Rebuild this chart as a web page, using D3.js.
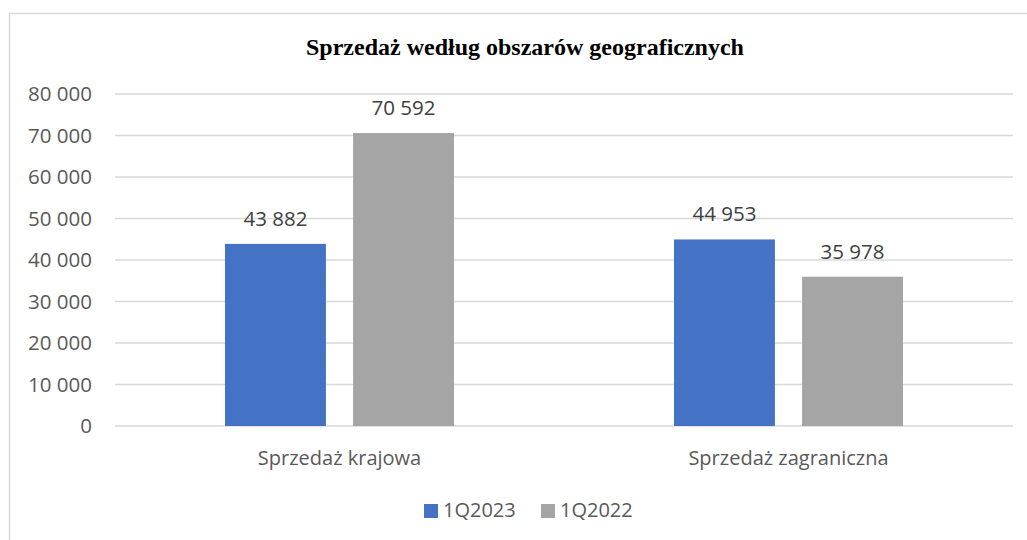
<!DOCTYPE html>
<html>
<head>
<meta charset="utf-8">
<script src="https://cdn.jsdelivr.net/npm/d3@7"></script>
<style>
body{margin:0;background:#fff;}
svg{display:block;}
</style>
</head>
<body>
<svg id="chart" width="1027" height="540"></svg>
<script>
const categories=["Sprzedaż krajowa","Sprzedaż zagraniczna"];
const seriesNames=["1Q2023","1Q2022"];
const values1Q2023=[43882,44953];
const values1Q2022=[70592,35978];
const yTicks=[0,10000,20000,30000,40000,50000,60000,70000,80000];
const colors=["#4472c4","#a5a5a5"];

const svg=d3.select("#chart");
const plotLeft=115,plotRight=1013,plotTop=94,plotBottom=426;
const fmt=v=>d3.format(",")(v).replace(/,/g," ");

// ramka
svg.append("rect")
    .attr("x",9.5).attr("y",13.5)
    .attr("width",1030).attr("height",540)
    .attr("fill","#fff").attr("stroke","#d9d9d9").attr("stroke-width",1.5);

svg.append("text")
    .attr("x",525).attr("y",55)
    .attr("text-anchor","middle")
    .attr("font-family","'Liberation Serif','Times New Roman',serif")
    .attr("font-weight","bold")
    .attr("font-size",24)
    .attr("fill","#000")
    .text("Sprzedaż według obszarów geograficznych");

const y=d3.scaleLinear().domain([0,80000]).range([plotBottom,plotTop]);
const x0=d3.scaleBand().domain(categories).range([plotLeft,plotRight]).paddingInner(0.49).paddingOuter(0.245);
const x1=d3.scaleBand().domain(seriesNames).range([0,x0.bandwidth()]).paddingInner(0.212);

// siatka
svg.append("g").selectAll("line").data(yTicks).join("line")
    .attr("x1",plotLeft).attr("x2",plotRight)
    .attr("y1",d=>y(d)).attr("y2",d=>y(d))
    .attr("stroke","#d9d9d9").attr("stroke-width",1.5);

svg.append("g").selectAll("text").data(yTicks).join("text")
    .attr("x",92).attr("y",d=>y(d)+7)
    .attr("text-anchor","end")
    .attr("font-family","'Open Sans',sans-serif")
    .attr("font-size",20.5)
    .attr("fill","#595959")
    .text(d=>fmt(d));

const rows=categories.map((c,i)=>({cat:c,vals:[values1Q2023[i],values1Q2022[i]]}));

const groups=svg.append("g").selectAll("g").data(rows).join("g")
    .attr("transform",d=>`translate(${x0(d.cat)},0)`);

groups.selectAll("rect").data(d=>d.vals.map((v,j)=>({name:seriesNames[j],v,j}))).join("rect")
    .attr("x",d=>x1(d.name))
    .attr("y",d=>y(d.v))
    .attr("width",x1.bandwidth())
    .attr("height",d=>y(0)-y(d.v))
    .attr("fill",d=>colors[d.j]);

groups.selectAll("text").data(d=>d.vals.map((v,j)=>({name:seriesNames[j],v,j}))).join("text")
    .attr("x",d=>x1(d.name)+x1.bandwidth()/2)
    .attr("y",d=>y(d.v)-18)
    .attr("text-anchor","middle")
    .attr("font-family","'Open Sans',sans-serif")
    .attr("font-size",20.5)
    .attr("fill","#404040")
    .text(d=>fmt(d.v));

// kategorie
svg.append("g").selectAll("text").data(categories).join("text")
    .attr("x",d=>x0(d)+x0.bandwidth()/2)
    .attr("y",465)
    .attr("text-anchor","middle")
    .attr("font-family","'Open Sans',sans-serif")
    .attr("font-size",20)
    .attr("fill","#595959")
    .text(d=>d);

// legenda
const legend=svg.append("g").selectAll("g").data(seriesNames).join("g")
    .attr("transform",(d,i)=>`translate(${424+i*117},0)`);
legend.append("rect")
    .attr("x",0).attr("y",504).attr("width",14).attr("height",14)
    .attr("fill",(d,i)=>colors[i]);
legend.append("text")
    .attr("x",19).attr("y",517)
    .attr("font-family","'Open Sans',sans-serif")
    .attr("font-size",20)
    .attr("fill","#595959")
    .text(d=>d);
</script>
</body>
</html>
